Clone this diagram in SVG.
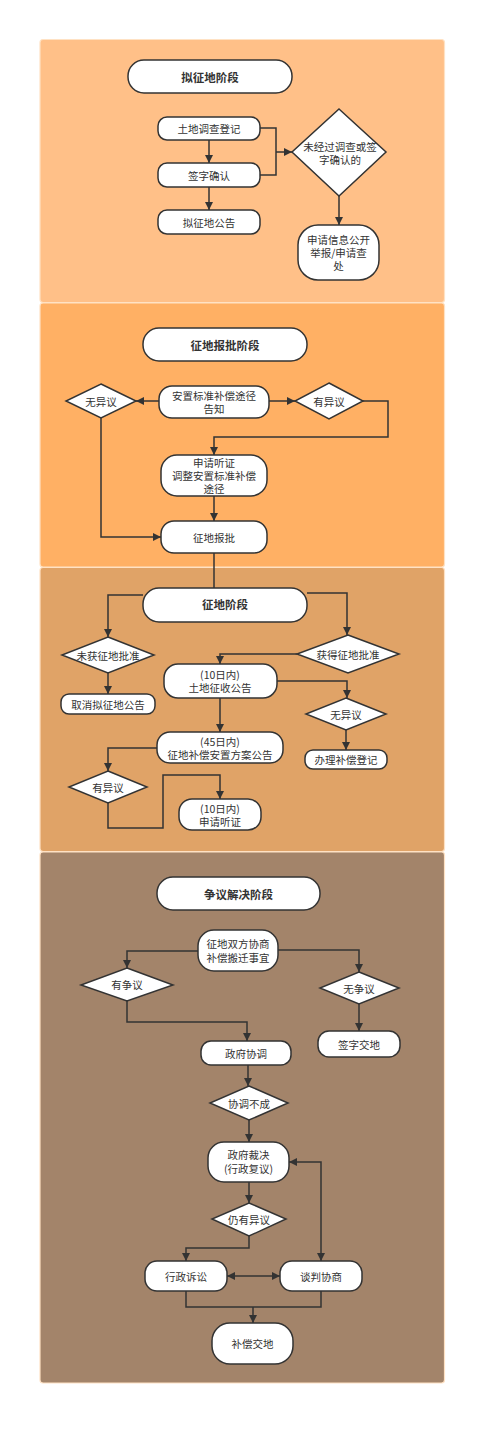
<svg xmlns="http://www.w3.org/2000/svg" width="496" height="1434" viewBox="0 0 496 1434">
<defs>
<marker id="arr" viewBox="0 0 10 10" refX="10" refY="5" markerWidth="9" markerHeight="8" markerUnits="userSpaceOnUse" orient="auto-start-reverse">
<path d="M0,0 L10,5 L0,10 z" fill="#333"/>
</marker>
</defs>
<style>
.panel{stroke:#FFE2C4;stroke-width:1.2}
.n{fill:#fff;stroke:#333;stroke-width:1.5}
.t{font-family:"Noto Sans CJK SC","Liberation Sans",sans-serif;font-size:10.5px;fill:#333;text-anchor:middle;dominant-baseline:central}
.b{font-weight:bold;font-size:11.5px}
.c{fill:none;stroke:#333;stroke-width:1.5}
.a{marker-end:url(#arr)}
.aa{marker-start:url(#arr);marker-end:url(#arr)}
</style>
<rect width="496" height="1434" fill="#fff"/>
<g id="panels">
<rect class="panel" x="40" y="39.5" width="404.5" height="263" rx="3" fill="#FFC088"/>
<rect class="panel" x="40" y="303" width="404.5" height="264" rx="3" fill="#FFB064"/>
<rect class="panel" x="40" y="567.5" width="404.5" height="284" rx="3" fill="#E0A367"/>
<rect class="panel" x="40" y="852" width="404.5" height="531" rx="3" fill="#A3846A"/>
</g>
<g id="connectors">
<path class="c a" d="M209,140 V163"/>
<path class="c a" d="M209,187 V210"/>
<path class="c" d="M260,128 H276 V152"/>
<path class="c" d="M260,175 H276 V152"/>
<path class="c a" d="M276,152 H292"/>
<path class="c a" d="M339,196 V225"/>
<path class="c a" d="M159,401 H136"/>
<path class="c a" d="M269,401 H295"/>
<path class="c a" d="M363,401 H388 V437 H214 V455"/>
<path class="c a" d="M214,496 V521"/>
<path class="c a" d="M101,418 V537 H161"/>
<path class="c" d="M214,553 V588"/>
<path class="c a" d="M143,595 H108 V637"/>
<path class="c a" d="M307,593 H347 V635"/>
<path class="c a" d="M108,673 V694"/>
<path class="c a" d="M297,654 H220 V664"/>
<path class="c a" d="M277,681 H347 V698"/>
<path class="c a" d="M346,730 V750"/>
<path class="c a" d="M220,698 V732"/>
<path class="c a" d="M157,748 H108 V771"/>
<path class="c a" d="M108,803 V828 H163 V775 H220 V799"/>
<path class="c a" d="M198,951 H127 V968"/>
<path class="c a" d="M278,950 H359 V972"/>
<path class="c a" d="M359,1004 V1031"/>
<path class="c a" d="M127,1001 V1022 H247 V1041"/>
<path class="c a" d="M248,1065 V1086"/>
<path class="c a" d="M249,1120 V1142"/>
<path class="c a" d="M249,1182 V1203"/>
<path class="c a" d="M249,1236 V1248 H186 V1261"/>
<path class="c aa" d="M227,1276 H280"/>
<path class="c aa" d="M289,1162 H321 V1261"/>
<path class="c" d="M186,1291 V1307 H321 V1291"/>
<path class="c a" d="M253,1307 V1323"/>
</g>
<g id="n1"><rect class="n" x="128" y="60" width="164" height="33" rx="16"/><text class="t b" x="210" y="76.5">拟征地阶段</text></g>
<g id="n2"><rect class="n" x="158" y="117" width="102" height="23" rx="9"/><text class="t" x="209" y="128.5">土地调查登记</text></g>
<g id="n3"><rect class="n" x="158" y="163" width="102" height="24" rx="9"/><text class="t" x="209" y="175">签字确认</text></g>
<g id="n4"><rect class="n" x="158" y="210" width="102" height="24" rx="9"/><text class="t" x="209" y="222">拟征地公告</text></g>
<g id="n5"><path class="n" d="M339,109 L386,152 L339,196 L292,152 Z"/><text class="t" x="340" y="146">未经过调查或签</text><text class="t" x="340" y="159">字确认的</text></g>
<g id="n6"><rect class="n" x="298" y="225" width="81" height="55" rx="20"/><text class="t" x="338.5" y="239">申请信息公开</text><text class="t" x="338.5" y="252">举报/申请查</text><text class="t" x="338.5" y="265.5">处</text></g>
<g id="n7"><rect class="n" x="143" y="328" width="164" height="33" rx="16"/><text class="t b" x="225" y="344.5">征地报批阶段</text></g>
<g id="n8"><rect class="n" x="159" y="386" width="110" height="32" rx="13"/><text class="t" x="214" y="395.5">安置标准补偿途径</text><text class="t" x="214" y="408.5">告知</text></g>
<g id="n9"><path class="n" d="M101,384 L136,401 L101,418 L66,401 Z"/><text class="t" x="101" y="401">无异议</text></g>
<g id="n10"><path class="n" d="M329,383 L363,401 L329,419 L295,401 Z"/><text class="t" x="329" y="401">有异议</text></g>
<g id="n11"><rect class="n" x="161" y="455" width="106" height="41" rx="16"/><text class="t" x="214" y="462">申请听证</text><text class="t" x="214" y="475">调整安置标准补偿</text><text class="t" x="214" y="488">途径</text></g>
<g id="n12"><rect class="n" x="161" y="521" width="106" height="32" rx="13"/><text class="t" x="214" y="537">征地报批</text></g>
<g id="n13"><rect class="n" x="143" y="588" width="164" height="34" rx="16"/><text class="t b" x="225" y="604">征地阶段</text></g>
<g id="n14"><path class="n" d="M108,637 L154,655 L108,673 L62,655 Z"/><text class="t" x="108" y="655">未获征地批准</text></g>
<g id="n15"><rect class="n" x="61" y="694" width="94" height="20" rx="8"/><text class="t" x="108" y="704">取消拟征地公告</text></g>
<g id="n16"><path class="n" d="M348,635 L399,654 L348,673 L297,654 Z"/><text class="t" x="348" y="654">获得征地批准</text></g>
<g id="n17"><rect class="n" x="164" y="664" width="113" height="34" rx="14"/><text class="t" x="220" y="674">(10日内)</text><text class="t" x="220" y="687.5">土地征收公告</text></g>
<g id="n18"><path class="n" d="M346,698 L386,714 L346,730 L306,714 Z"/><text class="t" x="346" y="714">无异议</text></g>
<g id="n19"><rect class="n" x="305" y="750" width="82" height="19" rx="8"/><text class="t" x="346" y="759.5">办理补偿登记</text></g>
<g id="n20"><rect class="n" x="157" y="732" width="126" height="31" rx="13"/><text class="t" x="220" y="741">(45日内)</text><text class="t" x="220" y="754">征地补偿安置方案公告</text></g>
<g id="n21"><path class="n" d="M108,771 L147,787 L108,803 L69,787 Z"/><text class="t" x="108" y="787">有异议</text></g>
<g id="n22"><rect class="n" x="179" y="799" width="82" height="31" rx="13"/><text class="t" x="220" y="808.5">(10日内)</text><text class="t" x="220" y="821">申请听证</text></g>
<g id="n23"><rect class="n" x="157" y="877" width="163" height="33" rx="16"/><text class="t b" x="238.5" y="893.5">争议解决阶段</text></g>
<g id="n24"><rect class="n" x="198" y="930" width="80" height="41" rx="16"/><text class="t" x="238" y="943.5">征地双方协商</text><text class="t" x="238" y="957.5">补偿搬迁事宜</text></g>
<g id="n25"><path class="n" d="M127,968 L173,985 L127,1001 L81,985 Z"/><text class="t" x="127" y="984.5">有争议</text></g>
<g id="n26"><path class="n" d="M359,972 L399,988 L359,1004 L320,988 Z"/><text class="t" x="359" y="988">无争议</text></g>
<g id="n27"><rect class="n" x="318" y="1031" width="82" height="26" rx="11"/><text class="t" x="359" y="1044">签字交地</text></g>
<g id="n28"><rect class="n" x="201" y="1041" width="90" height="24" rx="10"/><text class="t" x="246" y="1053">政府协调</text></g>
<g id="n29"><path class="n" d="M249,1086 L288,1103 L249,1120 L210,1103 Z"/><text class="t" x="249" y="1103">协调不成</text></g>
<g id="n30"><rect class="n" x="208" y="1142" width="81" height="40" rx="16"/><text class="t" x="248.5" y="1154">政府裁决</text><text class="t" x="248.5" y="1168">(行政复议)</text></g>
<g id="n31"><path class="n" d="M249,1203 L286,1219 L249,1236 L212,1219 Z"/><text class="t" x="249" y="1219">仍有异议</text></g>
<g id="n32"><rect class="n" x="145" y="1261" width="82" height="30" rx="12"/><text class="t" x="186" y="1276">行政诉讼</text></g>
<g id="n33"><rect class="n" x="280" y="1261" width="82" height="30" rx="12"/><text class="t" x="321" y="1276">谈判协商</text></g>
<g id="n34"><rect class="n" x="212" y="1323" width="81" height="41" rx="18"/><text class="t" x="252.5" y="1343.5">补偿交地</text></g>
</svg>
